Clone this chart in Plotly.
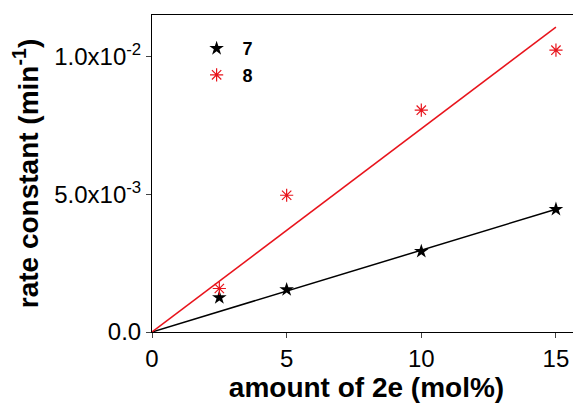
import plotly.graph_objects as go

# data
amount = [2.5, 5, 10, 15]
k7 = [1.25e-3, 1.54e-3, 2.93e-3, 4.46e-3]
k8 = [1.58e-3, 4.97e-3, 8.06e-3, 10.24e-3]
fit_x = [0, 15]
fit7 = [0, 4.46e-3]
fit8 = [0, 11.08e-3]
xticks = [0, 5, 10, 15]
yticks = [0, 5e-3, 1e-2]
yticktext = ["0.0", "5.0x10<sup>-3</sup>", "1.0x10<sup>-2</sup>"]

FONT = "Liberation Sans, Arial, sans-serif"

fig = go.Figure()
fig.add_trace(go.Scatter(x=fit_x, y=fit7, mode="lines", line=dict(color="black", width=1.5),
                         showlegend=False, hoverinfo="skip"))
fig.add_trace(go.Scatter(x=fit_x, y=fit8, mode="lines", line=dict(color="#e8141c", width=1.5),
                         showlegend=False, hoverinfo="skip"))
fig.add_trace(go.Scatter(x=amount, y=k7, mode="markers", name="7",
                         marker=dict(symbol="star", size=11, color="black")))
fig.add_trace(go.Scatter(x=amount, y=k8, mode="markers", name="8",
                         marker=dict(symbol="asterisk-open", size=11, color="#e8141c",
                                     line=dict(color="#e8141c", width=1.2))))

fig.update_layout(
    width=573, height=395,
    margin=dict(l=144, r=0, t=7, b=71),
    paper_bgcolor="white", plot_bgcolor="white",
    font=dict(family=FONT, color="black"),
    legend=dict(x=0.09, y=0.952, xanchor="left", yanchor="top",
                bgcolor="rgba(0,0,0,0)", font=dict(size=18, weight="bold"),
                itemwidth=42, tracegroupgap=0),
    xaxis=dict(range=[0, 15.93], tickvals=xticks, ticks="outside", ticklen=5,
               showline=True, linecolor="black", linewidth=1, mirror=True,
               showgrid=False, zeroline=False, tickfont=dict(size=24),
               title=dict(text="amount of 2e (mol%)", font=dict(size=28, weight="bold"), standoff=4)),
    yaxis=dict(range=[0, 0.01152], tickvals=yticks, ticktext=yticktext, ticks="outside", ticklen=5,
               showline=True, linecolor="black", linewidth=1, mirror=False,
               showgrid=False, zeroline=False, tickfont=dict(size=24),
               title=dict(text="rate constant (min<sup>-1</sup>)", font=dict(size=28, weight="bold"), standoff=9)),
)

fig.write_html("out.html")
